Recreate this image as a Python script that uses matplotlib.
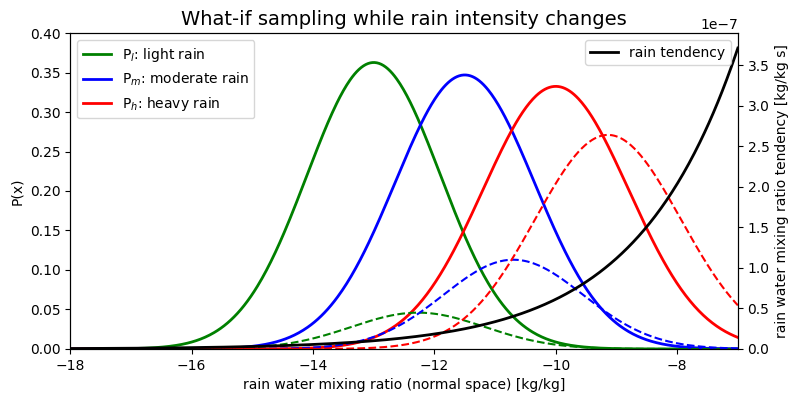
import matplotlib
matplotlib.use('Agg')
import matplotlib.pyplot as plt
import numpy as np

# Rain intensity distributions P(x) (gaussian, in normal space)
CLASS_LABELS = ['P$_l$: light rain', 'P$_m$: moderate rain', 'P$_h$: heavy rain']
CLASS_COLORS = ['green', 'blue', 'red']
CLASS_MEANS = [-13.0, -11.5, -10.0]
CLASS_SIGMAS = [1.1, 1.15, 1.2]

SAMPLED_MEANS = [-12.27, -10.70, -9.14]
SAMPLED_PEAKS = [0.046, 0.113, 0.271]

# Rain tendency: value at right edge and exponential growth rate
TENDENCY_END = 3.71e-7
TENDENCY_RATE = 0.6

X_MIN, X_MAX = -18, -7


def gauss(x, mu, sigma):
    return np.exp(-0.5 * ((x - mu) / sigma) ** 2) / (sigma * np.sqrt(2 * np.pi))


x = np.linspace(X_MIN, X_MAX, 600)

fig, ax = plt.subplots(figsize=(7.9, 3.93), dpi=100)
fig.subplots_adjust(left=0.089, right=0.934, bottom=0.112, top=0.916)

for label, color, mu, sigma in zip(CLASS_LABELS, CLASS_COLORS, CLASS_MEANS, CLASS_SIGMAS):
    ax.plot(x, gauss(x, mu, sigma), color=color, linewidth=2, label=label)

for color, mu, peak, sigma in zip(CLASS_COLORS, SAMPLED_MEANS, SAMPLED_PEAKS, CLASS_SIGMAS):
    shape = np.exp(-0.5 * ((x - mu) / sigma) ** 2)
    ax.plot(x, peak * shape, color=color, linewidth=1.5, linestyle='--')

ax.set_xlim(X_MIN, X_MAX)
ax.set_ylim(0, 0.4)
ax.set_xlabel('rain water mixing ratio (normal space) [kg/kg]')
ax.set_ylabel('P(x)')
ax.set_title('What-if sampling while rain intensity changes', fontsize=14)
ax.legend(loc='upper left')

ax2 = ax.twinx()
tendency = TENDENCY_END * np.exp(TENDENCY_RATE * (x - X_MAX))
ax2.plot(x, tendency, color='black', linewidth=2, label='rain tendency')
ax2.set_ylim(bottom=0)
ax2.set_ylabel('rain water mixing ratio tendency [kg/kg s]')
ax2.legend(loc='upper right')

fig.savefig('out.png', dpi=100)
